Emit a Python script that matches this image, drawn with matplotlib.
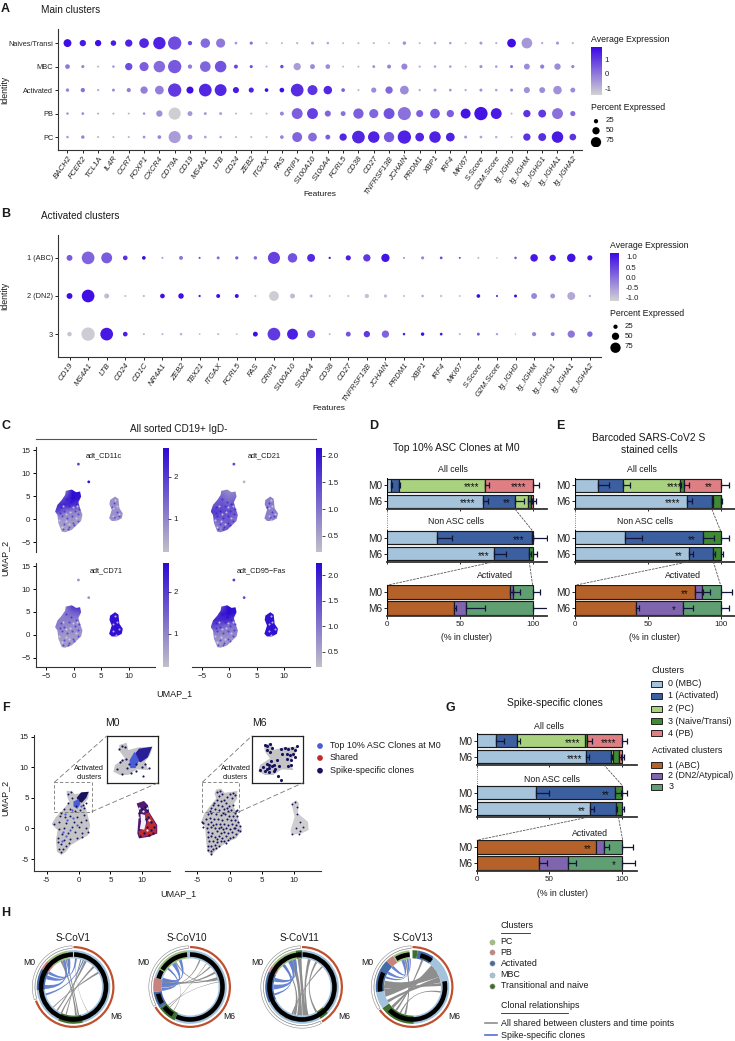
import numpy as np
from matplotlib import pyplot as plt
from matplotlib.colors import LinearSegmentedColormap, Normalize
from matplotlib.patches import Polygon, Wedge, PathPatch, Rectangle
from matplotlib.path import Path

plt.rcParams['font.family'] = ['Liberation Sans', 'DejaVu Sans']

W, H = 735, 1041

# ---- dot plots
a_features = ['BACH2', 'FCER2', 'TCL1A', 'IL4R', 'CCR7', 'FOXP1', 'CXCR4', 'CD79A', 'CD19', 'MS4A1', 'LTB',
              'CD24', 'ZEB2', 'ITGAX', 'FAS', 'CRIP1', 'S100A10', 'S100A4', 'FCRL5', 'CD38', 'CD27', 'TNFRSF13B',
              'JCHAIN', 'PRDM1', 'XBP1', 'IRF4', 'MKI67', 'S.Score', 'G2M.Score', 'Ig_IGHD', 'Ig_IGHM', 'Ig_IGHG1',
              'Ig_IGHA1', 'Ig_IGHA2']
a_rows = ['Naives/Transi', 'MBC', 'Activated', 'PB', 'PC']
a_pct = [
    [55, 42, 42, 35, 50, 70, 92, 100, 25, 68, 65, 12, 15, 6, 6, 8, 14, 10, 5, 6, 7, 5, 18, 6, 10, 10, 5, 14, 7, 62, 78, 8, 15, 7],
    [28, 15, 6, 10, 50, 65, 85, 100, 25, 78, 85, 22, 15, 6, 18, 50, 30, 28, 5, 6, 13, 22, 40, 8, 10, 10, 6, 15, 10, 14, 38, 24, 42, 16],
    [18, 25, 8, 14, 24, 50, 62, 100, 48, 95, 88, 40, 32, 20, 28, 95, 72, 60, 20, 6, 32, 50, 62, 8, 14, 12, 8, 14, 10, 14, 40, 38, 60, 30],
    [10, 12, 6, 6, 6, 10, 42, 90, 30, 14, 14, 6, 6, 6, 22, 80, 80, 40, 30, 75, 65, 80, 98, 48, 70, 50, 72, 100, 80, 6, 50, 55, 80, 32],
    [10, 18, 6, 6, 6, 12, 20, 90, 30, 12, 10, 6, 6, 6, 20, 72, 62, 30, 50, 95, 85, 75, 100, 62, 85, 62, 14, 12, 10, 6, 50, 55, 85, 45],
]
a_expr = [
    [1.7, 1.5, 1.7, 1.5, 1.4, 1.3, 1.4, .7, .7, .2, 0, -.5, .2, -.9, -1, -1, -.6, -.7, -1, -1, -1, -1.2, -.4, -1, -.8, -.6, -1, -.5, -.8, 1.7, -.5, -.8, -.5, -.9],
    [0, -.2, -.9, -.4, .7, .4, .2, .5, -.1, .3, .6, .8, .7, -.8, .7, -.6, -.3, -.3, -1, -1, -.4, -.2, -.2, -.9, -.6, -.5, -1, -.4, -.5, .2, -.3, -.1, -.3, -.2],
    [-.2, .1, -.8, -.3, -.1, -.1, -.1, 1, 1.7, 1.3, 1.3, 1.5, 1.4, 1.7, 1.7, 1.2, 1.1, 1.3, .4, -.9, -.3, .3, -.3, -.8, -.6, -.5, -.8, -.4, -.6, -.2, -.4, -.3, -.4, -.3],
    [-.4, -.3, -.8, -.8, -1, -.4, -.4, -1.4, -.5, -.6, -.7, -1, -1, -1, -.2, .4, .9, .3, .1, .4, .3, .6, .1, .4, .5, .4, 1.6, 1.6, 1.5, -1, 1.1, 1, .1, .2],
    [-.5, -.2, -.9, -.9, -.9, -.4, -.2, -.6, -.4, -.7, -.7, -1, -1, -1, -.2, .3, .2, .4, 1.3, 1.3, 1.4, .5, 1.4, 1.3, 1.4, 1.4, -.5, -.7, -.9, -1, 1.1, 1.2, 1.5, 1.1],
]
b_features = ['CD19', 'MS4A1', 'LTB', 'CD24', 'CD1C', 'NR4A1', 'ZEB2', 'TBX21', 'ITGAX', 'FCRL5', 'FAS', 'CRIP1',
              'S100A10', 'S100A4', 'CD38', 'CD27', 'TNFRSF13B', 'JCHAIN', 'PRDM1', 'XBP1', 'IRF4', 'MKI67', 'S.Score',
              'G2M.Score', 'Ig_IGHD', 'Ig_IGHM', 'Ig_IGHG1', 'Ig_IGHA1', 'Ig_IGHA2']
b_rows = ['1 (ABC)', '2 (DN2)', '3']
b_pct = [
    [38, 95, 80, 28, 20, 6, 22, 6, 14, 16, 18, 90, 68, 55, 8, 32, 50, 58, 5, 15, 12, 5, 5, 3, 10, 52, 42, 60, 32],
    [38, 95, 30, 6, 6, 28, 35, 8, 22, 22, 6, 70, 30, 14, 5, 6, 25, 16, 5, 10, 8, 5, 20, 7, 14, 38, 30, 55, 9],
    [26, 100, 95, 28, 6, 6, 10, 4, 6, 4, 30, 95, 80, 58, 5, 30, 42, 50, 10, 18, 12, 6, 14, 8, 2, 24, 22, 50, 35],
]
b_expr = [
    [.2, .1, .2, .7, 1.1, -.6, -.1, .5, 0, .2, 0, .5, .3, .8, 1, .9, .6, 1.05, -.3, -.3, .4, .6, -.8, -1, .3, 1, 1, 1.05, 1.05],
    [1.1, 1.1, -.9, -.9, -.8, 1.1, 1.1, .9, 1.1, 1.1, -.9, -1.1, -.9, -.8, -.9, -.9, -1, -.9, -.8, -.7, -.9, -.9, 1.1, .7, 1.1, -.3, -.5, -.7, -.8],
    [-1, -1.1, 1, .9, -.8, -.8, -.8, -.9, -.8, -.9, 1.1, .6, .9, .3, -.8, .3, .6, .1, 1, 1.1, 1, -.7, .2, -.5, -1, -.3, -.2, -.1, .1],
]
legend_pct = [25, 50, 75]

# ---- panel C, umap blobs
c_big_x = [-1.46, -.36, .43, 1.15, 1.34, .85, 1.15, 1.58, 1.34, .24, -.36, -1.58, -2.19, -2.8, -2.98, -3.4, -2.98, -2.19, -1.58]
c_big_y = [6.17, 6.46, 5.88, 6.03, 4.94, 3.7, 2.4, .94, -.36, -1.6, -2.3, -2.83, -2.69, -.87, .94, 1.67, 3.12, 4.2, 5.3]
c_small_x = [6.62, 7.53, 8.14, 8.32, 8.93, 8.74, 7.83, 6.92, 6.44, 6.92, 6.5]
c_small_y = [4.2, 4.94, 4.43, 2.4, 1.3, .22, -.36, -.36, .22, 2.03, 3.27]
c_names = ['adt_CD11c', 'adt_CD21', 'adt_CD71', 'adt_CD95\u2212Fas']
c_ranges = [(.2, 2.7), (.2, 2.15), (.2, 2.7), (.2, 2.25)]
c_ticks = [[1, 2], [.5, 1, 1.5, 2], [1, 2], [.5, 1, 1.5, 2]]
c_small_val = [.85, .9, 2.6, 2.15]
c_far_val = [(1.9, 2.6), (1.5, .3), (.8, .8), (1.7, 1.5)]
c_far_x = [.85, 2.73]
c_far_y = [11.98, 8.13]
c_grid = [
    [[1.6, 1.3, 2.6, 2.6], [1.5, 2.0, 2.7, 2.5], [2.2, 2.3, 2.2, 1.9], [1.9, 1.3, 1.1, 1.0], [.9, .8, .9, .7], [.7, .7, .7, .6], [.6, .6, .7, .6]],
    [[.9, 1.0, .8, .9], [1.2, 1.2, 1.0, 1.1], [1.3, 1.4, 1.2, 1.5], [1.6, 1.5, 1.4, 1.3], [1.4, 1.3, 1.3, 1.1], [.9, 1.1, 1.3, .9], [.8, .9, 1.4, .9]],
    [[.9, 1.1, 2.0, 2.2], [.9, 1.2, 1.4, 1.6], [1.1, 1.1, 1.1, 1.0], [1.1, .9, .9, .9], [.9, .8, .8, .8], [.7, .7, .7, .7], [.7, .7, .7, .6]],
    [[1.2, 1.5, 2.2, 2.2], [1.6, 2.0, 2.2, 2.1], [1.9, 1.9, 1.9, 1.5], [1.5, 1.3, 1.1, 1.1], [1.0, .9, .9, .9], [.8, .7, .7, .7], [.6, .6, .7, .6]],
]
# darker and lighter specks on the cell clouds
c_dark = [(-2.4, 2.6), (-1.7, 1.7), (-.8, 2.9), (.2, 1.9), (.8, 1.1), (-2.2, .8), (-1.2, .3), (-.3, .8), (.7, -.3), (-1.7, -1.1),
          (-.9, -1.7), (-.2, -.9), (-1.4, 4.5), (-.5, 3.8), (.4, 3.3), (-2.5, 1.4), (-1.1, -2.2), (-2.0, -2.2), (.1, -1.3), (1.0, 2.3),
          (7.3, 3.6), (7.8, 1.6), (7.4, .4), (8.2, .8), (6.9, 2.7)]
c_light = [(-1.9, 2.9), (-.2, 2.6), (.6, 2.8), (-2.6, -.2), (-1.4, 1.2), (-.6, 1.6), (.4, .3), (-1.5, -.4), (-.8, -1.0), (-2.2, -1.6),
           (7.2, 2.4), (7.9, 2.9), (8.3, 1.2), (7.2, .8), (7.7, -.1), (7.6, 4.2)]

# ---- panel F
f0_big_x = [-1.88, -1.09, -.57, .63, 1.66, 1.5, .89, 1.3, 1.82, 1.5, .1, -1.2, -1.98, -2.66, -3.39, -3.54, -3.28, -4.22, -3.54, -2.5, -1.46, -1.82]
f0_big_y = [6.14, 6.14, 5.6, 5.82, 5.98, 4.9, 4.08, 2.72, .54, -1.09, -1.9, -2.72, -3.8, -4.35, -3.8, -1.9, -.27, .71, 1.9, 2.99, 4.35, 5.3]
f0_small_x = [9.11, 10.26, 10.89, 11.04, 12.34, 12.34, 11.04, 9.48, 9.22, 9.38, 9.48]
f0_small_y = [4.08, 4.5, 3.8, 2.72, .54, -.82, -1.36, -1.63, -.82, 1.36, 2.99]
f0_red_x = [10.4, 11.0, 12.2, 12.2, 10.8, 9.6, 9.4, 10.2, 10.8]
f0_red_y = [2.4, 2.6, .5, -.8, -1.2, -1.5, -.5, -.1, .9]
f0_white_x = [9.7, 10.4, 10.6, 10.3, 9.6, 9.8]
f0_white_y = [2.4, 2.2, .9, -.2, -.1, 1.1]
f0_navy_x = [-.3, .4, 1.6, 1.2, .5, 0]
f0_navy_y = [5.0, 5.9, 6.0, 5.0, 4.2, 4.4]
f0_blue_x = [-.8, 0, .3, -.2, -.8]
f0_blue_y = [4.4, 4.8, 4.0, 3.2, 3.6]
f0_dots = [(-1.6, 5.6), (-1.2, 5.9), (-1.0, 4.9), (-1.7, 4.1), (-2.3, 3.1), (-1.4, 3.2), (-.6, 2.8), (.3, 3.0), (.9, 3.3),
           (-2.9, 2.0), (-2.2, 1.9), (-1.3, 2.0), (-.2, 1.9), (.8, 2.2), (1.2, 1.3), (.4, 1.0), (-.7, 1.1), (-1.9, .9),
           (-3.0, 1.0), (-3.8, .7), (-3.1, -.1), (-2.3, .1), (-1.1, .2), (.1, .2), (1.1, .1), (1.5, -.6), (.6, -.7),
           (-.5, -.6), (-1.6, -.8), (-2.6, -.9), (-3.2, -1.5), (-2.3, -1.9), (-1.3, -1.7), (-.3, -1.5), (-2.8, -2.6),
           (-1.9, -2.8), (-3.1, -3.4), (-2.7, -3.9), (-2.4, -3.3), (-3.3, -2.2), (-1.5, -2.3), (0.5, -1.4), (1.2, 4.2),
           (.7, 3.9), (-.4, 3.7), (-2.7, 2.5)]
f0_blue_dots = [(-2.4, -.6), (-2.0, -1.3), (-1.4, -.2), (-1.8, 1.4), (-.8, 1.7), (-.2, .6), (-2.6, -2.0), (-1.1, 3.0), (.4, 3.6), (-2.1, 2.4)]
f0_small_dots = [(10.9, 1.9), (11.4, 1.0), (11.9, .3), (11.3, -.3), (10.7, .2), (10.2, -.8), (9.6, -1.2), (11.0, -1.0), (11.7, -.7),
                 (10.5, 1.5), (9.9, 3.2), (10.4, 3.5), (10.8, 3.0), (9.5, 2.6)]
f0_small_white = [(9.5, 3.4), (10.7, 3.4), (10.1, 2.9), (9.4, 1.9), (11.0, 1.4), (10.8, -.3)]
f6_big_x = [-2.07, -1.3, -.78, .26, 1.19, 1.19, .52, 1.04, 1.92, 1.04, -.26, -1.81, -2.75, -3.47, -3.63, -3.78, -4.4, -3.89, -3.11, -2.07, -2.33]
f6_big_y = [6.36, 6.52, 5.82, 5.98, 6.14, 4.89, 3.8, 2.72, -.27, -1.63, -2.17, -3.26, -4.35, -3.8, -1.9, .27, 1.09, 2.45, 3.53, 4.89, 5.7]
f6_small_x = [9.59, 10.36, 10.78, 10.62, 12.18, 12.28, 11.14, 9.59, 9.48, 10.1]
f6_small_y = [4.08, 4.62, 4.08, 2.45, 1.09, -.27, -.82, -1.09, -.27, 1.9]
f6_dots = [(-1.9, 5.9), (-1.5, 6.1), (-1.1, 5.7), (-1.6, 5.3), (.1, 5.6), (.6, 5.8), (.9, 5.4), (.4, 5.0), (-.4, 5.2), (-1.9, 4.6),
           (-1.4, 4.5), (-.9, 4.7), (-2.4, 4.1), (-1.8, 3.9), (-1.2, 3.7), (-.6, 4.1), (-.1, 3.6), (.5, 3.9), (-2.9, 3.3), (-2.2, 3.2),
           (-1.6, 3.0), (-.9, 3.1), (-.3, 2.8), (.3, 3.0), (.8, 2.6), (-3.4, 2.4), (-2.8, 2.5), (-2.1, 2.3), (-1.4, 2.2), (-.7, 2.3),
           (-.1, 2.0), (.5, 2.1), (1.1, 2.0), (-3.6, 1.6), (-3.0, 1.7), (-2.4, 1.5), (-1.8, 1.6), (-1.1, 1.4), (-.4, 1.5), (.2, 1.3),
           (.8, 1.4), (1.3, 1.1), (-4.1, .9), (-3.4, .8), (-2.8, 1.0), (-2.1, .8), (-1.5, .7), (-.8, .8), (-.2, .6), (.4, .7),
           (1.0, .6), (1.6, .4), (-3.5, .1), (-2.9, .2), (-2.3, 0), (-1.7, .1), (-1.0, -.1), (-.5, .1), (.1, -.1), (.7, 0),
           (1.3, -.2), (1.7, -.5), (-3.3, -.6), (-2.7, -.7), (-2.0, -.5), (-1.4, -.8), (-.8, -.6), (-.2, -.8), (.4, -.6), (1.0, -.9),
           (-3.4, -1.4), (-2.9, -1.3), (-2.3, -1.4), (-1.7, -1.2), (-1.1, -1.5), (-.5, -1.3), (.1, -1.5), (.6, -1.4), (-3.2, -2.1),
           (-2.6, -2.0), (-2.0, -2.2), (-1.4, -2.0), (-.8, -2.1), (-.2, -1.9), (-3.3, -2.8), (-2.8, -2.9), (-2.2, -2.7), (-1.6, -2.8),
           (-3.3, -3.5), (-2.9, -3.7), (-2.5, -3.4), (-2.8, -4.1), (-2.1, -3.2), (-4.3, 1.0), (-4.1, .3), (1.2, 3.0), (1.0, 2.9),
           (-2.6, 3.9), (-3.1, 2.9), (-1.0, 2.6), (-.4, 3.3), (.9, .1), (-1.3, .3), (-2.5, .5), (-1.9, -1.8), (-.6, -2.4)]
f6_small_dots = [(9.7, 4.0), (10.2, 4.3), (10.4, 3.5), (10.5, 2.4), (10.9, 1.0), (11.4, .2), (11.0, -.4), (10.3, .1), (9.7, -.9), (10.8, -.9)]
ins_x = [-2.29, -1.42, -1.23, -.08, 1.55, 1.25, .68, 1.06, -.27, -1.23, -2.18, -2.94, -2.75, -1.61, -2.18]
ins_y = [6.57, 6.81, 6.06, 6.33, 6.4, 5.55, 4.86, 4.0, 4.07, 3.49, 3.49, 3.83, 4.52, 5.2, 5.89]
ins0_navy_x = [-.9, 0, 1.5, 1.0, .2]
ins0_navy_y = [5.2, 6.2, 6.4, 5.3, 4.8]
ins0_blue_x = [-1.1, -.5, 0, -.4, -1.0]
ins0_blue_y = [5.0, 5.9, 5.0, 4.2, 4.2]
ins0_dots = [(-2.3, 6.2), (-1.9, 6.5), (-1.6, 6.4), (-2.2, 4.8), (-1.9, 5.0), (-1.5, 5.1), (-2.5, 4.1), (-1.9, 3.6), (-1.4, 4.2), (-.9, 3.7),
             (-.4, 3.9), (.3, 4.3), (.7, 4.6), (1.1, 4.2), (.5, 3.4), (-1.1, 4.6), (-.3, 4.6)]
ins6_dots = [(-2.2, 6.6), (-1.9, 6.5), (-1.6, 6.7), (-1.4, 6.3), (-1.9, 6.1), (-1.6, 5.9), (-.3, 6.2), (.1, 6.3), (.5, 6.2), (.9, 6.3), (1.2, 6.1),
             (-.2, 5.7), (.3, 5.6), (.7, 5.5), (1.0, 5.7), (1.3, 5.3), (.3, 5.1), (.8, 5.0), (-.8, 5.0), (-1.5, 4.9), (-2.0, 4.6), (-1.7, 4.5),
             (-2.4, 4.3), (-2.0, 4.1), (-1.7, 4.2), (-1.4, 4.4), (-1.1, 4.5), (-2.2, 3.9), (-1.7, 3.8), (-1.2, 3.9), (-.6, 4.4), (.4, 4.4),
             (.8, 4.5), (-.3, 3.0), (-.7, 3.4), (1.5, 6.5), (-2.7, 4.0), (-1.0, 4.1)]

# ---- stacked bars
names5 = ['0 (MBC)', '1 (Activated)', '2 (PC)', '3 (Naive/Transi)', '4 (PB)']
cols5 = ['#A5C3DA', '#3B5F9F', '#A9D27E', '#3F8A33', '#DF7F83']
names3 = ['1 (ABC)', '2 (DN2/Atypical)', '3']
cols3 = ['#B4622A', '#7F65AE', '#5F9F72']
nonasc_cols = ['#A5C3DA', '#3B5F9F', '#3F8A33']
# cumulative segment ends [M0, M6], the error length per segment, stars (row, x, text)
d_all = [[2.5, 8, 67, 67.5, 100], [66, 88, 96.5, 98.5, 100]]
d_all_e = [[1, 1, 3, 0, 4.5], [3, 6, 2, 1, 2]]
d_all_s = [(0, 58, '****'), (0, 90, '****'), (1, 55, '****'), (1, 82, '**')]
d_non = [[34.4, 99.3, 100], [73.6, 97.7, 100]]
d_non_e = [[10, 1, 9.5], [8, 1, 3]]
d_non_s = [(0, 90, '***'), (1, 66, '***')]
d_act = [[84.5, 86.5, 100], [46, 54, 100]]
d_act_e = [[2, 5, 5], [1, 13, 12]]
d_act_s = []
e_all = [[15.5, 33, 72, 75, 100], [77, 94, 94.5, 100, 100]]
e_all_e = [[8, 4.5, 1, 3, 6], [3, 1, 0, 0, 1]]
e_all_s = [(0, 68, '****'), (0, 92, '**'), (1, 67, '****')]
e_non = [[34, 87.5, 100], [78, 95, 100]]
e_non_e = [[12, 8, 6], [3, 1, 1.5]]
e_non_s = [(0, 80, '**'), (1, 71, '**')]
e_act = [[82, 87, 100], [41.5, 74, 100]]
e_act_e = [[6, 5.6, 7.5], [2.5, 7, 6]]
e_act_s = [(0, 75, '**'), (1, 68, '*')]
g_all = [[13, 27.5, 74.5, 76, 100], [75, 92, 94, 98, 100]]
g_all_e = [[5.5, 2.5, 0, 3, 3.5], [2, 1, 0, 1, 1]]
g_all_s = [(0, 66, '****'), (0, 91, '****'), (1, 67, '****')]
g_non = [[41, 95, 100], [78, 95.5, 100]]
g_non_e = [[9, 4.5, 3.5], [2.5, 1, 1.6]]
g_non_s = [(0, 89, '**'), (1, 72, '**')]
g_act = [[82, 87.5, 100], [42.5, 62.5, 100]]
g_act_e = [[0, 3.5, 7.5], [5.5, 5.5, 9]]
g_act_s = [(0, 76, '**'), (1, 94, '*')]

# ---- chord diagrams, compass degrees
h_names = ['S-CoV1', 'S-CoV10', 'S-CoV11', 'S-CoV13']
h_pc, h_pb, h_act, h_mbc, h_nv = '#9CC27C', '#C8837F', '#456BA6', '#A3C2DC', '#3F6F2E'
h_m6_end = [250, 240, 150, 235]
h_segs = [
    [(0, 165, h_mbc), (165, 205, h_nv), (205, 265, h_mbc), (265, 300, h_act), (300, 315, h_pb), (315, 350, h_pc), (350, 360, h_mbc)],
    [(0, 205, h_mbc), (205, 235, h_nv), (235, 262, h_act), (262, 285, h_pb), (285, 300, h_mbc), (300, 355, h_pc), (355, 360, h_mbc)],
    [(0, 135, h_mbc), (135, 150, h_nv), (150, 245, h_mbc), (245, 295, h_act), (295, 305, h_pb), (305, 350, h_pc), (350, 360, h_nv)],
    [(0, 8, h_nv), (8, 35, h_act), (35, 178, h_mbc), (178, 235, h_nv), (235, 262, h_mbc), (262, 315, h_act), (315, 328, h_pb), (328, 355, h_pc)],
]
h_black = [
    [(1, 359)],
    [(0, 205), (212, 232), (240, 258), (285, 300), (302, 355)],
    [(1, 359)],
    [(14, 36), (80, 225), (262, 296), (330, 355)],
]
# ribbons: angle, half width, angle, half width
h_grey = [
    [(335, 2, 175, 2), (345, 1.5, 170, 1.5), (25, 2.5, 215, 1.5), (45, 2, 205, 1.5), (60, 2, 225, 1), (15, 1.2, 195, 1.2), (5, .5, 150, .5)],
    [(60, 2, 280, 2), (72, 2, 285, 2), (45, 1.4, 275, 1.4), (20, 1.4, 270, 1.4), (330, 1.4, 75, 1.4), (310, .7, 215, .7), (80, .7, 230, .7), (35, .7, 225, .7)],
    [(340, 5, 185, 5), (355, 4, 175, 4), (15, 3, 170, 3), (30, 2, 150, 2), (320, 2, 195, 3), (45, 1.5, 200, 1.5)],
    [(52, 6, 258, 8), (62, 7, 275, 8), (75, 6, 240, 3), (45, 4, 225, 3), (85, 3, 270, 3), (20, 2, 215, 2), (345, 2, 195, 2), (100, 1.5, 205, 1.5)],
]
h_blue = [
    [(270, 4, 340, 3), (290, 4, 350, 3), (300, 3, 5, 2), (255, 2, 20, 1.4)],
    [(275, 5, 325, 4), (285, 4, 340, 3), (265, 3, 310, 2)],
    [(270, 5, 335, 4), (285, 4, 345, 3), (255, 2, 320, 3)],
    [(300, 3, 340, 3), (315, 3, 350, 2), (290, 2, 355, 1.5)],
]

dot_cmap = LinearSegmentedColormap.from_list('dots', ['#D3D3D3', '#3A06E6'])
umap_cmap = LinearSegmentedColormap.from_list('umap', ['#C0C0C8', '#2C08D2'])
fig = plt.figure(figsize=(W / 100, H / 100), dpi=100)


def ax_px(l, t, r, b, **kw):
    return fig.add_axes([l / W, 1 - b / H, (r - l) / W, (b - t) / H], **kw)


pix = ax_px(0, 0, W, H)
pix.set_xlim(0, W)
pix.set_ylim(H, 0)
pix.axis('off')
pix.set_zorder(10)


def txt(x, y, s, size=6.5, ha='left', va='center', **kw):
    pix.text(x, y, s, fontsize=size, ha=ha, va=va, color=kw.pop('color', '#1a1a1a'), **kw)


def dot_area(pct):
    # marker area for a percent value, radius scale with a small floor
    return ((1.3 + np.array(pct) * 0.12) * 0.72) ** 2


def dotplot(ax, features, rows, pct, expr, lims, ylims):
    xs, ys = np.meshgrid(np.arange(len(features)), np.arange(len(rows)))
    ax.scatter(xs.ravel(), ys.ravel(), s=dot_area(np.array(pct).ravel()), c=np.array(expr).ravel(), cmap=dot_cmap,
               vmin=lims[0], vmax=lims[1], linewidths=0)
    ax.set_xlim(-0.62, len(features) - 0.4)
    ax.set_ylim(*ylims)
    ax.set_yticks(range(len(rows)), rows, fontsize=5.3, color='#222222')
    ax.set_xticks(range(len(features)), features, rotation=55, ha='right', rotation_mode='anchor',
                  fontsize=5.7, style='italic', color='#222222')
    ax.tick_params(length=2, width=.6, pad=1.5)
    for s in ['top', 'right']:
        ax.spines[s].set_visible(False)
    for s in ['left', 'bottom']:
        ax.spines[s].set_linewidth(.8)
        ax.spines[s].set_color('#333333')


def gradient_bar(l, t, r, b, cmap, lims, ticks, labels, ts=5.6):
    ax = ax_px(l, t, r, b)
    ax.imshow(np.linspace(1, 0, 256).reshape(-1, 1), cmap=cmap, aspect='auto', extent=[0, 1, lims[0], lims[1]])
    ax.set_xticks([])
    ax.yaxis.tick_right()
    ax.set_yticks(ticks, labels, fontsize=ts, color='#222222')
    ax.tick_params(length=2, width=.5, pad=2)
    for s in ax.spines.values():
        s.set_visible(False)
    return ax


# panel A
ax = ax_px(58, 29, 582, 150)
dotplot(ax, a_features, a_rows, a_pct, a_expr, (-1.48, 1.83), (4.55, -.6))
txt(1, 9, 'A', 9, fontweight='bold')
txt(41, 10, 'Main clusters', 7.2)
txt(320, 195, 'Features', 6, ha='center')
txt(5, 90, 'Identity', 6.3, ha='center', rotation=90)
txt(591, 39, 'Average Expression', 6.3)
ax = gradient_bar(591, 47, 602, 95, dot_cmap, (-1.48, 1.83), [-1, 0, 1], ['-1', '0', '1'])
ax.tick_params(pad=2, length=0)
txt(591, 108, 'Percent Expressed', 6.3)
ax = ax_px(590, 115, 602, 147)
ax.scatter([0] * 3, [0, 1, 2.2], s=dot_area(legend_pct), c='k', linewidths=0)
ax.set_ylim(2.7, -.65)
ax.axis('off')
for y, v in zip([121, 130, 141], legend_pct):
    txt(606, y, str(v), 5.6)

# panel B
ax = ax_px(58, 235, 601, 357)
dotplot(ax, b_features, b_rows, b_pct, b_expr, (-1.2, 1.2), (2.6, -.6))
txt(1, 214, 'B', 9, fontweight='bold')
txt(41, 216, 'Activated clusters', 7.2)
txt(329, 408, 'Features', 6, ha='center')
txt(5, 296, 'Identity', 6.3, ha='center', rotation=90)
txt(610, 245, 'Average Expression', 6.3)
ax = gradient_bar(610, 252.7, 619, 301, dot_cmap, (-1.16, 1.2), [-1, -.5, 0, .5, 1], ['-1.0', '-0.5', '0.0', '0.5', '1.0'])
ax.tick_params(length=0, pad=5)
txt(610, 314, 'Percent Expressed', 6.3)
ax = ax_px(609, 321, 622, 353)
ax.scatter([0] * 3, [0, 1, 2.2], s=dot_area(legend_pct), c='k', linewidths=0)
ax.set_ylim(2.75, -.6)
ax.axis('off')
for y, v in zip([326.7, 336, 346.7], legend_pct):
    txt(625, y, str(v), 5.6)

# panel C
txt(1, 426, 'C', 9, fontweight='bold')
txt(179, 428.7, 'All sorted CD19+ IgD-', 7.2, ha='center')
pix.plot([36, 315.7], [438.7, 438.7], color='#555555', lw=.8)
txt(5, 558, 'UMAP_2', 6.5, ha='center', rotation=90)
txt(174, 694, 'UMAP_1', 6.5, ha='center')
c_boxes = [(36, 447, 155, 552), (191.7, 447, 310, 552), (36, 563, 155, 667.3), (191.7, 563, 310, 667.3)]
c_bars = [(163, 447.7, 168.3, 552), (316, 447.7, 321.7, 552), (163, 562.7, 168.3, 667.3), (316, 562.7, 321.7, 667.3)]
c_lbl = [(104, 455.7), (264.3, 455.7), (106, 571), (261, 571)]
for i in range(4):
    l, t, r, b = c_boxes[i]
    ax = ax_px(l, t, r, b)
    norm = Normalize(*c_ranges[i])
    poly = Polygon(np.c_[c_big_x, c_big_y], closed=True, fc='none', ec='none')
    ax.add_patch(poly)
    im = ax.imshow(np.array(c_grid[i]), cmap=umap_cmap, norm=norm, extent=[-3.4, 1.6, -2.9, 6.5], aspect='auto',
                   interpolation='bilinear', origin='upper')
    im.set_clip_path(poly)
    ax.set_xlim(-6.88, 14.8)
    ax.set_ylim(-7.1, 15.7)
    ax.add_patch(Polygon(np.c_[c_small_x, c_small_y], closed=True, fc=umap_cmap(norm(c_small_val[i])), ec='none'))
    ax.scatter(*zip(*c_dark), s=2.2, c='#2C08D2', alpha=.55, linewidths=0, zorder=4)
    ax.scatter(*zip(*c_light), s=2.2, c='#D6D6E4', alpha=.8, linewidths=0, zorder=4)
    ax.scatter(c_far_x, c_far_y, s=4, c=c_far_val[i], cmap=umap_cmap, norm=norm, linewidths=0)
    for s in ['top', 'right', 'left', 'bottom']:
        ax.spines[s].set_visible(False)
    ax.set_xticks([])
    ax.set_yticks([])
    if i in (0, 2):
        ax.spines['left'].set_visible(True)
        ax.spines['left'].set_color('#333333')
        ax.set_yticks([-5, 0, 5, 10, 15], ['\u22125', '0', '5', '10', '15'], fontsize=5.8, color='#222222')
    if i >= 2:
        ax.spines['bottom'].set_visible(True)
        ax.spines['bottom'].set_color('#333333')
        ax.set_xticks([-5, 0, 5, 10], ['\u22125', '0', '5', '10'], fontsize=5.8, color='#222222')
    ax.tick_params(length=2.5, width=.7, pad=1.5)
    ax.patch.set_alpha(0)
    txt(c_lbl[i][0], c_lbl[i][1], c_names[i], 5.3, ha='center')
    bx = c_bars[i]
    tk = c_ticks[i]
    gradient_bar(bx[0], bx[1], bx[2], bx[3], umap_cmap, c_ranges[i], tk,
                 [str(v) if i in (0, 2) else '%.1f' % v for v in tk], ts=5.8)


# panel F
def add_poly(ax, xs, ys, col, z=2):
    ax.add_patch(Polygon(np.c_[xs, ys], closed=True, fc=col, ec='none', zorder=z))


navy, royal, crimson, cell = '#16125E', '#4A5BD8', '#C22B2E', '#C4C4C6'
txt(2, 708, 'F', 9, fontweight='bold')
ax = ax_px(34.3, 735, 170, 871)
ax.set_xlim(-6.94, 14.34)
ax.set_ylim(-6.96, 15.28)
add_poly(ax, f0_big_x, f0_big_y, cell)
add_poly(ax, f0_navy_x, f0_navy_y, navy, 3)
add_poly(ax, f0_blue_x, f0_blue_y, royal, 3)
add_poly(ax, f0_small_x, f0_small_y, '#51196F')
add_poly(ax, f0_red_x, f0_red_y, crimson, 3)
add_poly(ax, f0_white_x, f0_white_y, '#F0EEFA', 3)
ax.scatter(*zip(*f0_dots), s=2, c=navy, linewidths=0, zorder=4)
ax.scatter(*zip(*f0_blue_dots), s=2.5, c=royal, linewidths=0, zorder=4)
ax.scatter(*zip(*f0_small_dots), s=3, c=navy, linewidths=0, zorder=4)
ax.scatter(*zip(*f0_small_white), s=2.5, c='#F0EEFA', linewidths=0, zorder=4)
ax.set_xticks([-5, 0, 5, 10], ['-5', '0', '5', '10'], fontsize=5.8, color='#222222')
ax.set_yticks([-5, 0, 5, 10, 15], ['-5', '0', '5', '10', '15'], fontsize=5.8, color='#222222')
ax.tick_params(length=2.5, width=.7, pad=1.5)
ax1 = ax_px(185, 735, 320.7, 871)
ax1.set_xlim(-6.91, 14.15)
ax1.set_ylim(-6.96, 15.28)
add_poly(ax1, f6_big_x, f6_big_y, cell)
add_poly(ax1, f6_small_x, f6_small_y, '#CFCFD1')
ax1.scatter(*zip(*f6_dots), s=2.2, c=navy, linewidths=0, zorder=4)
ax1.scatter(*zip(*f6_small_dots), s=1.8, c=navy, linewidths=0, zorder=4)
ax1.set_xticks([-5, 0, 5, 10], ['-5', '0', '5', '10'], fontsize=5.8, color='#222222')
ax1.set_yticks([])
ax1.spines['left'].set_visible(False)
ax1.tick_params(length=2.5, width=.7, pad=1.5)
for a in (ax, ax1):
    a.patch.set_alpha(0)
    a.spines['top'].set_visible(False)
    a.spines['right'].set_visible(False)
    for s in ['left', 'bottom']:
        a.spines[s].set_color('#333333')

for l, navy_on in [(106.7, True), (251.7, False)]:
    ins = ax_px(l, 736, l + 51.6, 782.7)
    ins.set_xlim(-3.7, 2.2)
    ins.set_ylim(2.7, 7.5)
    add_poly(ins, ins_x, ins_y, cell)
    if navy_on:
        add_poly(ins, ins0_navy_x, ins0_navy_y, '#2A1F96', 3)
        add_poly(ins, ins0_blue_x, ins0_blue_y, royal, 3)
        ins.scatter(*zip(*ins0_dots), s=2.5, c=navy, linewidths=0, zorder=4)
    else:
        ins.scatter(*zip(*ins6_dots), s=5, c=navy, linewidths=0, zorder=4)
    ins.set_xticks([])
    ins.set_yticks([])
    for s in ins.spines.values():
        s.set_color('#222222')
        s.set_linewidth(.9)
    ins.set_zorder(5)

for bx, ix in [((54.3, 782.3, 91.7, 811.7), 106.7), ((202.3, 782.3, 239.3, 811.7), 251.7)]:
    pix.add_patch(Rectangle((bx[0], bx[1]), bx[2] - bx[0], bx[3] - bx[1], fc='none', ec='#777777', lw=.6, ls=(0, (4, 2.5))))
    pix.plot([bx[0], ix], [bx[1], 736], color='#777777', lw=.6, ls=(0, (6, 3)))
    pix.plot([bx[2], ix + 51.6], [bx[3], 782.7], color='#777777', lw=.6, ls=(0, (6, 3)))
txt(112.7, 723, 'M0', 7.5, ha='center')
txt(259.3, 723, 'M6', 7.5, ha='center')
txt(89, 768.7, 'Activated', 5.3, ha='center')
txt(89, 777.7, 'clusters', 5.3, ha='center')
txt(235.7, 768.7, 'Activated', 5.3, ha='center')
txt(235.7, 777.7, 'clusters', 5.3, ha='center')
txt(5, 798, 'UMAP_2', 6.5, ha='center', rotation=90)
txt(178, 894, 'UMAP_1', 6.5, ha='center')
pix.scatter([320] * 3, [746, 758, 770.7], s=17, c=[royal, crimson, navy], linewidths=0)
for y, s in zip([746, 758, 770.7], ['Top 10% ASC Clones at M0', 'Shared', 'Spike-specific clones']):
    txt(329.7, y, s, 6.4)


# bars
def stack(l, t, r, ends, errs, stars, cols):
    ax = ax_px(l, t, r, t + 31.3)
    ax.set_xlim(0, 110)
    ax.set_ylim(1.49, -.45)
    for row in range(2):
        left = 0
        for k, e in enumerate(ends[row]):
            ax.barh(row, e - left, left=left, height=.83, color=cols[k], edgecolor='#1c1c1c', lw=.85, zorder=2)
            left = e
        for k, e in enumerate(ends[row]):
            if errs[row][k] > 0:
                ax.errorbar(e, row, xerr=[[0], [errs[row][k]]], color='#11153a', lw=.9, capsize=2.2, capthick=.9, zorder=3)
    for row, x, s in stars:
        ax.text(x, row + .12, s, fontsize=7, ha='center', va='center', color='#111111', zorder=4)
    ax.set_yticks([0, 1], ['M0', 'M6'], fontsize=7.2, color='#222222')
    ax.set_xticks([0, 50, 100])
    ax.set_xticklabels([])
    ax.tick_params(axis='y', length=2, width=.6, pad=1.5)
    ax.tick_params(axis='x', length=1.5, width=.6)
    for s in ['top', 'right']:
        ax.spines[s].set_visible(False)
    ax.spines['bottom'].set_linewidth(1.3)
    ax.spines['bottom'].set_color('#333333')
    ax.spines['left'].set_linewidth(.7)
    ax.patch.set_alpha(0)
    return ax


def bar_panel(l, tops, data, c1, top_x, mid_x, xscale):
    r = l + 160
    stack(l, tops[0], r, data[0][0], data[0][1], data[0][2], cols5)
    stack(l, tops[1], r, data[1][0], data[1][1], data[1][2], nonasc_cols)
    ax = stack(l, tops[2], r, data[2][0], data[2][1], data[2][2], cols3)
    ax.set_xticklabels(['0', '50', '100'], fontsize=5.8, color='#222222')
    ax.tick_params(axis='x', length=2.2, pad=1.5)
    bot0, bot1 = tops[0] + 31.3, tops[1] + 31.3
    pix.plot([l, l], [bot0, tops[1] + .5], color='#555555', lw=.6, ls=':')
    pix.plot([l + c1 * xscale, l + 100 * xscale], [bot0, tops[1] + .5], color='#555555', lw=.6, ls=(0, (3, 1.2)))
    pix.plot([l + top_x * xscale, l], [bot1, tops[2] + .5], color='#555555', lw=.6, ls=(0, (3, 1.2)))
    pix.plot([l + mid_x * xscale, l + 100 * xscale], [bot1, tops[2] + .5], color='#555555', lw=.6, ls=(0, (3, 1.2)))


txt(369, 426, 'D', 9, fontweight='bold')
txt(556, 426, 'E', 9, fontweight='bold')
txt(446, 708, 'G', 9, fontweight='bold')
bar_panel(387.3, (478, 530.4, 584.7), [(d_all, d_all_e, d_all_s), (d_non, d_non_e, d_non_s), (d_act, d_act_e, d_act_s)], 88, 73.6, 97.7, 1.453)
bar_panel(575.3, (478, 530.4, 584.7), [(e_all, e_all_e, e_all_s), (e_non, e_non_e, e_non_s), (e_act, e_act_e, e_act_s)], 94, 78, 95, 1.453)
bar_panel(476.7, (733.4, 785.4, 839.7), [(g_all, g_all_e, g_all_s), (g_non, g_non_e, g_non_s), (g_act, g_act_e, g_act_s)], 87, 78, 97, 1.46)
for x, y, s, ha in [(456, 447.7, 'Top 10% ASC Clones at M0', 'center'), (649, 437.7, 'Barcoded SARS-CoV2 S', 'center'),
                    (649, 449.7, 'stained cells', 'center'), (555, 702.7, 'Spike-specific clones', 'center')]:
    txt(x, y, s, 7.4, ha=ha)
for x, y, s in [(453, 469, 'All cells'), (456, 522, 'Non ASC cells'), (494.7, 576, 'Activated'), (467, 638, '(% in cluster)'),
                (642, 469, 'All cells'), (645, 522, 'Non ASC cells'), (683, 576, 'Activated'), (655, 638, '(% in cluster)'),
                (549, 726.7, 'All cells'), (551.7, 779.7, 'Non ASC cells'), (590, 834, 'Activated'), (563, 893, '(% in cluster)')]:
    txt(x, y, s, 6.35, ha='center')

# cluster legend
txt(651.7, 670.7, 'Clusters', 6.4)
for y, c, s in zip([684, 696, 708.7, 721, 733], cols5, names5):
    pix.add_patch(Rectangle((651, y - 3.2), 11.3, 6.4, fc=c, ec='#222222', lw=.7))
    txt(668.3, y, s, 6.4)
txt(651.7, 750.7, 'Activated clusters', 6.4)
for y, c, s in zip([765, 775.7, 786.7], cols3, names3):
    pix.add_patch(Rectangle((651, y - 3.2), 11.3, 6.4, fc=c, ec='#222222', lw=.7))
    txt(668.3, y, s, 6.4)


# panel H
def ring(ax, start, end, r, width, col, **kw):
    ax.add_patch(Wedge((0, 0), r, 90 - end, 90 - start, width=width, fc=col, ec=kw.get('ec', 'none'), lw=kw.get('lw', 0)))


def ribbon(ax, a1, w1, a2, w2, r, col, alpha=1):
    def pt(a):
        return r * np.sin(np.radians(a)), r * np.cos(np.radians(a))
    verts = [pt(a1 - w1), pt(a1 + w1), (0, 0), pt(a2 - w2), pt(a2 + w2), (0, 0), pt(a1 - w1)]
    codes = [Path.MOVETO, Path.LINETO, Path.CURVE3, Path.CURVE3, Path.LINETO, Path.CURVE3, Path.CURVE3]
    ax.add_patch(PathPatch(Path(verts, codes), fc=col, ec='none', alpha=alpha))


txt(1, 913, 'H', 9, fontweight='bold')
centers = [73.5, 190, 302, 412.5]
title_x = [73.5, 187, 299.7, 413]
m0_x = [29.4, 143, 257.5, 367.5]
m6_x = [116, 229.5, 343.8, 454]
for i, cx in enumerate(centers):
    ax = ax_px(cx - 44, 987 - 44, cx + 44, 987 + 44)
    ax.set_xlim(-44, 44)
    ax.set_ylim(-44, 44)
    ax.axis('off')
    ax.set_aspect('equal')
    end = h_m6_end[i]
    ring(ax, 0, end, 41, 2.2, '#BF4F2E')
    ring(ax, end + 2, 358, 41.2, 2.6, 'white', ec='#8a8a8a', lw=.4)
    ring(ax, end + 3, 357, 38.6, .3, '#8a8a8a')
    for s, e, c in h_segs[i]:
        ring(ax, s, e, 36.8, 8.2, c)
    for s, e in h_black[i]:
        ring(ax, s, e, 34.8, 4.6, 'black')
    for a1, w1, a2, w2 in h_grey[i]:
        ribbon(ax, a1, w1, a2, w2, 28.6, '#8E8E8E')
    for a1, w1, a2, w2 in h_blue[i]:
        ribbon(ax, a1, w1, a2, w2, 28.6, '#5F7FD0', .95)
    txt(title_x[i], 937.7, h_names[i], 7.2, ha='center')
    txt(m0_x[i], 962.7, 'M0', 6.2, ha='center')
    txt(m6_x[i], 1016.7, 'M6', 6.2, ha='center')
txt(500.7, 926, 'Clusters', 6.4)
pix.plot([500.7, 530], [933.3, 933.3], color='#222222', lw=.6)
for y, c, s in zip([941.7, 952.3, 963.3, 974.7, 986], [h_pc, h_pb, h_act, h_mbc, h_nv],
                   ['PC', 'PB', 'Activated', 'MBC', 'Transitional and naive']):
    pix.scatter([491.7], [y], s=14, c=c, edgecolors='#999999', linewidths=.3)
    txt(500.7, y, s, 6.4)
txt(500.7, 1005, 'Clonal relationships', 6.4)
pix.plot([500.7, 568], [1013, 1013], color='#222222', lw=.6)
pix.plot([485, 497], [1023, 1023], color='#8E8E8E', lw=1.2)
txt(500.7, 1023, 'All shared between clusters and time points', 6.4)
pix.plot([485, 497], [1035, 1035], color='#4F6FD8', lw=1.2)
txt(500.7, 1035, 'Spike-specific clones', 6.4)

fig.savefig('out.png', dpi=100)
